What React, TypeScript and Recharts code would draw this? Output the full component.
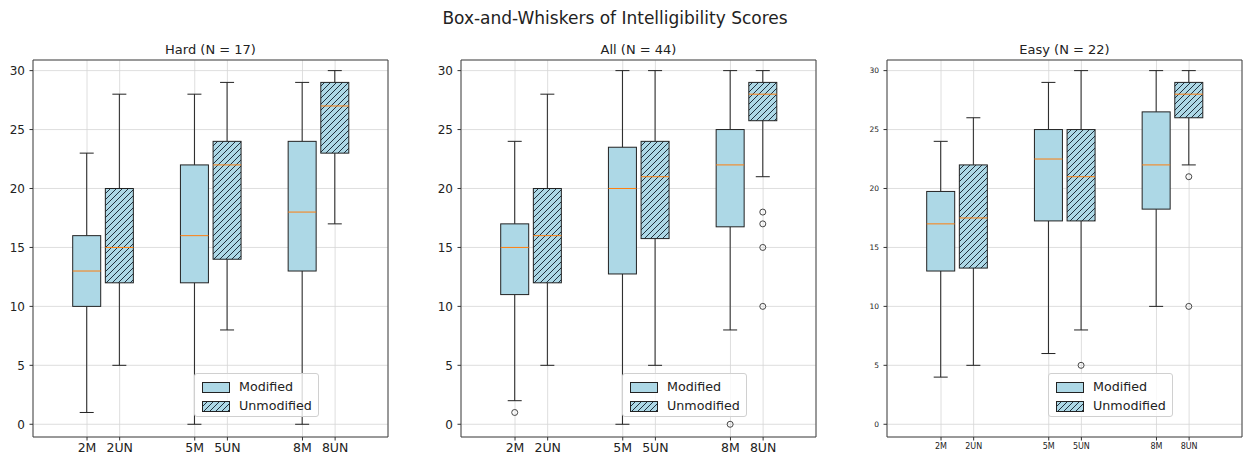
import { ComposedChart, Bar, XAxis, YAxis, CartesianGrid, ReferenceArea } from "recharts";

const labels = ["2M", "2UN", "5M", "5UN", "8M", "8UN"];
const slots = [1, 2, 4.3, 5.3, 7.6, 8.6];
const yTicks = [0, 5, 10, 15, 20, 25, 30];

const hardLow = [1, 5, 0, 8, 0, 17];
const hardQ1 = [10, 12, 12, 14, 13, 23];
const hardMedian = [13, 15, 16, 22, 18, 27];
const hardQ3 = [16, 20, 22, 24, 24, 29];
const hardHigh = [23, 28, 28, 29, 29, 30];
const hardFliers: number[][] = [[], [], [], [], [], []];

const allLow = [2, 5, 0, 5, 8, 21];
const allQ1 = [11, 12, 12.75, 15.75, 16.75, 25.75];
const allMedian = [15, 16, 20, 21, 22, 28];
const allQ3 = [17, 20, 23.5, 24, 25, 29];
const allHigh = [24, 28, 30, 30, 30, 30];
const allFliers: number[][] = [[1], [], [], [], [0], [18, 17, 15, 10]];

const easyLow = [4, 5, 6, 8, 10, 22];
const easyQ1 = [13, 13.25, 17.25, 17.25, 18.25, 26];
const easyMedian = [17, 17.5, 22.5, 21, 22, 28];
const easyQ3 = [19.75, 22, 25, 25, 26.5, 29];
const easyHigh = [24, 26, 29, 30, 30, 30];
const easyFliers: number[][] = [[], [], [], [5], [], [21, 10]];

const X_DOMAIN: [number, number] = [-0.655, 10.22];
const Y_DOMAIN: [number, number] = [-1.08, 30.9];
const PLOT_W = 355;
const AXIS_W = 40;
const FONT = "'DejaVu Sans', sans-serif";

function buildRows(low: number[], q1: number[], med: number[], q3: number[], high: number[], fliers: number[][]) {
  return labels.map((label, i) => ({
    label,
    pos: slots[i],
    low: low[i],
    q1: q1[i],
    med: med[i],
    q3: q3[i],
    high: high[i],
    fliers: fliers[i],
    hatched: label.endsWith("UN"),
  }));
}

const panels = [
  { id: "hard", title: "Hard (N = 17)", plotLeft: 33, small: false, rows: buildRows(hardLow, hardQ1, hardMedian, hardQ3, hardHigh, hardFliers) },
  { id: "all", title: "All (N = 44)", plotLeft: 461, small: false, rows: buildRows(allLow, allQ1, allMedian, allQ3, allHigh, allFliers) },
  { id: "easy", title: "Easy (N = 22)", plotLeft: 887, small: true, rows: buildRows(easyLow, easyQ1, easyMedian, easyQ3, easyHigh, easyFliers) },
];

function BoxShape(props: any) {
  const { x, y, width, height, payload, patternId } = props;
  if (!payload) return null;
  const top = Math.min(y, y + height);
  const bottom = Math.max(y, y + height);
  const span = payload.high - payload.low;
  // linear map between the pixel ends the bar scale gave for [low, high]
  const py = (v: number) => bottom - ((v - payload.low) / span) * (bottom - top);
  const cx = x + width / 2;
  const cap = width / 4;
  const boxTop = py(payload.q3);
  const boxBottom = py(payload.q1);
  const yHigh = py(payload.high);
  const yLow = py(payload.low);
  const yMed = py(payload.med);
  return (
    <g>
      <line x1={cx} x2={cx} y1={yHigh} y2={boxTop} stroke="#222" strokeWidth={1} />
      <line x1={cx} x2={cx} y1={boxBottom} y2={yLow} stroke="#222" strokeWidth={1} />
      <line x1={cx - cap} x2={cx + cap} y1={yHigh} y2={yHigh} stroke="#222" strokeWidth={1} />
      <line x1={cx - cap} x2={cx + cap} y1={yLow} y2={yLow} stroke="#222" strokeWidth={1} />
      <rect x={x} y={boxTop} width={width} height={boxBottom - boxTop} fill="#add8e6" />
      {payload.hatched && (
        <rect x={x} y={boxTop} width={width} height={boxBottom - boxTop} fill={`url(#${patternId})`} />
      )}
      <rect x={x} y={boxTop} width={width} height={boxBottom - boxTop} fill="none" stroke="#222" strokeWidth={1} />
      <line x1={x} x2={x + width} y1={yMed} y2={yMed} stroke="#ff7f0e" strokeWidth={1} />
      {payload.fliers.map((v: number, i: number) => (
        <circle key={i} cx={cx} cy={py(v)} r={3} fill="none" stroke="#333" strokeWidth={0.9} />
      ))}
    </g>
  );
}

function LegendBox({ patternId }: { patternId: string }) {
  const item = (hatched: boolean, text: string, top: number) => (
    <div style={{ position: "absolute", left: 7, top, height: 12, display: "flex", alignItems: "center" }}>
      <svg width={28} height={11} style={{ display: "block" }}>
        <rect x={0.5} y={0.5} width={27} height={10} fill="#add8e6" />
        {hatched && <rect x={0.5} y={0.5} width={27} height={10} fill={`url(#${patternId})`} />}
        <rect x={0.5} y={0.5} width={27} height={10} fill="none" stroke="#222" />
      </svg>
      <span style={{ marginLeft: 9, fontSize: 12.7, color: "#222", lineHeight: "12px" }}>{text}</span>
    </div>
  );
  return (
    <div
      style={{
        position: "absolute",
        left: AXIS_W + 161,
        top: 373,
        width: 125,
        height: 44,
        border: "1px solid #d0d0d0",
        borderRadius: 3,
        background: "rgba(255,255,255,0.8)",
        boxSizing: "border-box",
      }}
    >
      {item(false, "Modified", 7)}
      {item(true, "Unmodified", 26)}
    </div>
  );
}

function Panel({ id, title, plotLeft, small, rows }: (typeof panels)[number]) {
  const patternId = `hatch-${id}`;
  const yFont = small ? 7.5 : 12;
  const xFont = small ? 8 : 12.5;
  return (
    <div style={{ position: "absolute", left: plotLeft - AXIS_W, top: 0, width: AXIS_W + PLOT_W + 10, height: 458 }}>
      <div
        style={{
          position: "absolute",
          left: AXIS_W,
          width: PLOT_W,
          top: 42,
          textAlign: "center",
          fontSize: 13,
          lineHeight: "15px",
          color: "#222",
        }}
      >
        {title}
      </div>
      <ComposedChart
        width={AXIS_W + PLOT_W + 10}
        height={458}
        data={rows}
        margin={{ top: 60, right: 10, bottom: 1, left: 0 }}
      >
        <defs>
          <pattern id={patternId} patternUnits="userSpaceOnUse" width={6} height={6}>
            <path d="M-1,1 l2,-2 M0,6 l6,-6 M5,7 l2,-2" stroke="#1f2f3d" strokeWidth={1} />
          </pattern>
        </defs>
        <CartesianGrid stroke="#d6d6d6" strokeWidth={0.8} />
        <XAxis
          dataKey="pos"
          type="number"
          domain={X_DOMAIN}
          ticks={slots}
          interval={0}
          allowDataOverflow
          height={20}
          axisLine={false}
          tickSize={3.5}
          tickMargin={2.5}
          tickLine={{ stroke: "#333" }}
          tick={{ fontSize: xFont, fill: "#222", fontFamily: FONT }}
          tickFormatter={(v: number) => labels[slots.indexOf(v)] ?? ""}
        />
        <YAxis
          type="number"
          domain={Y_DOMAIN}
          ticks={yTicks}
          interval={0}
          allowDataOverflow
          width={AXIS_W}
          axisLine={false}
          tickSize={3.5}
          tickMargin={4.5}
          tickLine={{ stroke: "#333" }}
          tick={{ fontSize: yFont, fill: "#222", fontFamily: FONT }}
        />
        <Bar
          dataKey={(d: any) => [d.low, d.high]}
          barSize={28}
          isAnimationActive={false}
          shape={(p: any) => <BoxShape {...p} patternId={patternId} />}
        />
        <ReferenceArea
          x1={X_DOMAIN[0]}
          x2={X_DOMAIN[1]}
          y1={Y_DOMAIN[0]}
          y2={Y_DOMAIN[1]}
          fill="none"
          fillOpacity={0}
          stroke="#444"
          strokeWidth={1}
          ifOverflow="visible"
        />
      </ComposedChart>
      <LegendBox patternId={patternId} />
    </div>
  );
}

export default function App() {
  return (
    <div
      style={{
        position: "absolute",
        left: 0,
        top: 0,
        width: 1248,
        height: 458,
        overflow: "hidden",
        background: "#fff",
        fontFamily: FONT,
      }}
    >
      <div
        style={{
          position: "absolute",
          left: 315,
          width: 600,
          top: 7,
          textAlign: "center",
          fontSize: 17,
          lineHeight: "22px",
          color: "#222",
        }}
      >
        Box-and-Whiskers of Intelligibility Scores
      </div>
      {panels.map((p) => (
        <Panel key={p.id} {...p} />
      ))}
    </div>
  );
}
